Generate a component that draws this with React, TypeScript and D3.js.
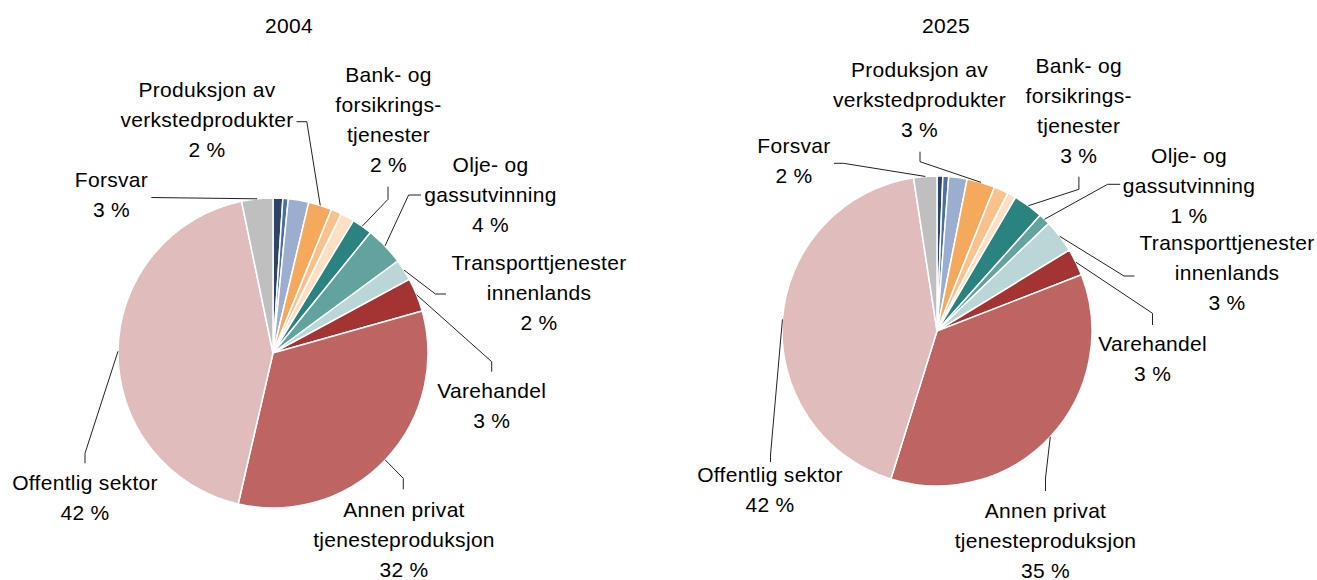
import React from "react";
import * as d3 from "d3";

// ---- data ----
const categories = [
  "Øvrig næring A",
  "Øvrig næring B",
  "Øvrig næring C",
  "Produksjon av verkstedprodukter",
  "Øvrig næring D",
  "Øvrig næring E",
  "Bank- og forsikringstjenester",
  "Olje- og gassutvinning",
  "Transporttjenester innenlands",
  "Varehandel",
  "Annen privat tjenesteproduksjon",
  "Offentlig sektor",
  "Forsvar",
];
const values2004 = [1.0, 0.55, 2.1, 2.4, 1.1, 1.4, 2.1, 4.0, 2.2, 3.45, 32.45, 42.45, 3.2];
const values2025 = [0.6, 0.6, 1.9, 2.9, 1.5, 0.9, 3.1, 1.2, 3.45, 2.8, 35.45, 42.45, 2.4];
const years = ["2004", "2025"];

// ---- styles ----
const colors = [
  "#2D4466", "#4A6FA5", "#9BAED0", "#F5A95C", "#F9C28D", "#FDDFC3", "#2A837F",
  "#63A39F", "#BBD6D7", "#A43434", "#BE6462", "#E1BCBC", "#BFBFBF",
];

type LabelLayout = { idx: number; lines: string[]; cx: number; y0: number; path: [number, number][] };

const layouts: { cx: number; cy: number; r: number; titleX: number; labels: LabelLayout[] }[] = [
  {
    cx: 273, cy: 353, r: 155, titleX: 289,
    labels: [
      { idx: 3, lines: ["Produksjon av", "verkstedprodukter"], cx: 207, y0: 96.5, path: [[306.8, 121.7], [296.5, 121.7]] },
      { idx: 6, lines: ["Bank- og", "forsikrings-", "tjenester"], cx: 388.5, y0: 81.7, path: [[388, 199.3], [388, 186.7]] },
      { idx: 7, lines: ["Olje- og", "gassutvinning"], cx: 490.5, y0: 171.7, path: [[408.6, 195], [421, 195]] },
      { idx: 8, lines: ["Transporttjenester", "innenlands"], cx: 539, y0: 270, path: [[435.4, 294], [446, 294]] },
      { idx: 9, lines: ["Varehandel"], cx: 491.7, y0: 398.3, path: [[491.7, 361.7], [491.7, 371.7]] },
      { idx: 10, lines: ["Annen privat", "tjenesteproduksjon"], cx: 404, y0: 516.7, path: [[403.3, 478.3], [403.3, 489.3]] },
      { idx: 11, lines: ["Offentlig sektor"], cx: 85, y0: 490, path: [[85, 453.3], [85, 463.3]] },
      { idx: 12, lines: ["Forsvar"], cx: 111.5, y0: 186.7, path: [[151.4, 197.5]] },
    ],
  },
  {
    cx: 937, cy: 331, r: 155, titleX: 946,
    labels: [
      { idx: 3, lines: ["Produksjon av", "verkstedprodukter"], cx: 919.5, y0: 76.7, path: [[920, 161.7], [920, 151.7]] },
      { idx: 6, lines: ["Bank- og", "forsikrings-", "tjenester"], cx: 1078.7, y0: 73.3, path: [[1078.9, 189.3], [1078.9, 176.7]] },
      { idx: 7, lines: ["Olje- og", "gassutvinning"], cx: 1189, y0: 163.3, path: [[1107.6, 184.3], [1120.2, 184.3]] },
      { idx: 8, lines: ["Transporttjenester", "innenlands"], cx: 1227, y0: 250, path: [[1124, 276], [1134.4, 276]] },
      { idx: 9, lines: ["Varehandel"], cx: 1152.6, y0: 350.7, path: [[1152.5, 313.3], [1152.5, 325]] },
      { idx: 10, lines: ["Annen privat", "tjenesteproduksjon"], cx: 1045.5, y0: 517.5, path: [[1045.5, 478], [1045.5, 491]] },
      { idx: 11, lines: ["Offentlig sektor"], cx: 770, y0: 481.5, path: [[770.5, 455], [770.5, 462]] },
      { idx: 12, lines: ["Forsvar"], cx: 794, y0: 153.3, path: [[843.5, 163.3], [834, 163.3]] },
    ],
  },
];

const FONT = "'Liberation Sans', Arial, Helvetica, sans-serif";
const FS = 21;
const LH = 30;

function Pie({ values, year, layout }: { values: number[]; year: string; layout: typeof layouts[0] }) {
  const pie = d3.pie<number>().sort(null).value((d) => d)(values);
  const arc = d3.arc<d3.PieArcDatum<number>>().innerRadius(0).outerRadius(layout.r);
  const edge = d3.arc<d3.PieArcDatum<number>>().innerRadius(layout.r).outerRadius(layout.r);
  return (
    <g>
      <text x={layout.titleX} y={32.7} textAnchor="middle" fontSize={FS} fontFamily={FONT} letterSpacing={0.3} fill="#000">
        {year}
      </text>
      <g transform={`translate(${layout.cx},${layout.cy})`}>
        {pie.map((p, i) => (
          <path key={i} d={arc(p) || ""} fill={colors[i]} stroke="#fff" strokeWidth={1.5} strokeLinejoin="round" />
        ))}
      </g>
      {layout.labels.map((lab, k) => {
        const [ex, ey] = edge.centroid(pie[lab.idx]);
        const pts: [number, number][] = [[layout.cx + ex, layout.cy + ey], ...lab.path];
        const line = d3.line()(pts) || "";
        const pct = `${Math.round(values[lab.idx])} %`;
        const allLines = [...lab.lines, pct];
        return (
          <g key={k}>
            <path d={line} fill="none" stroke="#222" strokeWidth={1} />
            <text fontSize={FS} fontFamily={FONT} letterSpacing={0.3} fill="#000" textAnchor="middle">
              {allLines.map((t, j) => (
                <tspan key={j} x={lab.cx} y={lab.y0 + j * LH}>
                  {t}
                </tspan>
              ))}
            </text>
          </g>
        );
      })}
    </g>
  );
}

export default function App() {
  const series = [values2004, values2025];
  return (
    <svg
      width={1317}
      height={580}
      style={{ position: "absolute", left: 0, top: 0, background: "#fff" }}
      aria-label={categories.join(", ")}
    >
      {series.map((vals, i) => (
        <Pie key={i} values={vals} year={years[i]} layout={layouts[i]} />
      ))}
    </svg>
  );
}
